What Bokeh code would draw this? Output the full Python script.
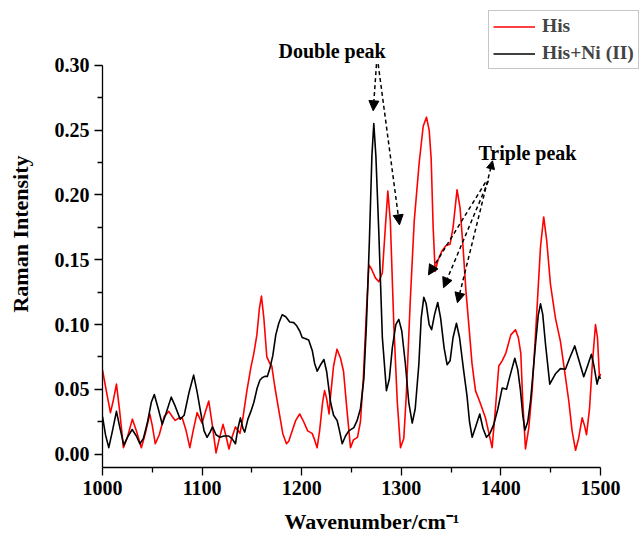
from bokeh.plotting import figure
from bokeh.models import Range1d, Legend, LegendItem, Label, Arrow, NormalHead, FixedTicker, PrintfTickFormatter
from bokeh.embed import file_html
from bokeh.resources import INLINE

# His (red)
his_x = [1000, 1004, 1008, 1011, 1014, 1017, 1021, 1025, 1030, 1034, 1039, 1043, 1047.5, 1050, 1053, 1057,
         1062, 1066.6, 1070, 1073, 1077, 1080, 1084, 1087.7, 1091, 1095, 1098, 1100, 1103, 1106.7, 1110,
         1114, 1117, 1121, 1124, 1127, 1130, 1133.5, 1138, 1141, 1145, 1149, 1152, 1155, 1157.5, 1159.6,
         1162, 1165, 1168, 1170, 1173, 1177, 1181, 1184.7, 1187, 1190.5, 1194, 1198, 1202, 1206, 1210.5,
         1213, 1215.5, 1218, 1221, 1223, 1225, 1227.5, 1229, 1232, 1235.5, 1239, 1242, 1245, 1249, 1252,
         1256, 1259, 1262, 1265, 1267.5, 1270, 1274, 1277.5, 1281, 1284, 1286.5, 1289, 1292.5, 1296,
         1299.2, 1302.5, 1305, 1309, 1313, 1318, 1322, 1325.3, 1328, 1330, 1332, 1334, 1337, 1341, 1345,
         1349, 1352, 1356, 1359, 1362, 1365, 1368, 1371, 1374.5, 1379, 1384.5, 1388, 1391.2, 1394, 1397.9,
         1401.3, 1405, 1410, 1414.7, 1417.5, 1420, 1422, 1424.7, 1428, 1431.4, 1435, 1439.8, 1443, 1446,
         1449.8, 1454.8, 1459.8, 1464, 1468.2, 1471.5, 1475, 1478, 1481.6, 1484, 1486, 1489, 1491.6, 1495,
         1497, 1499, 1500]
his_y = [0.065, 0.048, 0.032, 0.042, 0.054, 0.035, 0.005, 0.013, 0.027, 0.018, 0.005, 0.016, 0.031, 0.022,
         0.008, 0.015, 0.029, 0.033, 0.029, 0.026, 0.028, 0.028, 0.018, 0.005, 0.018, 0.032, 0.027, 0.024,
         0.032, 0.041, 0.024, 0.001, 0.011, 0.023, 0.014, 0.004, 0.013, 0.021, 0.016, 0.028, 0.049, 0.067,
         0.078, 0.092, 0.112, 0.122, 0.105, 0.075, 0.070, 0.068, 0.052, 0.034, 0.016, 0.008, 0.010, 0.018,
         0.026, 0.031, 0.025, 0.018, 0.016, 0.011, 0.005, 0.018, 0.040, 0.049, 0.043, 0.031, 0.045, 0.068,
         0.081, 0.074, 0.064, 0.038, 0.005, 0.011, 0.013, 0.025, 0.060, 0.110, 0.146, 0.143, 0.136, 0.133,
         0.140, 0.175, 0.203, 0.180, 0.100, 0.040, 0.005, 0.012, 0.045, 0.118, 0.180, 0.225, 0.253, 0.260,
         0.250, 0.228, 0.175, 0.141, 0.150, 0.157, 0.161, 0.162, 0.175, 0.204, 0.190, 0.160, 0.125, 0.098,
         0.070, 0.049, 0.040, 0.028, 0.016, 0.005, 0.030, 0.068, 0.072, 0.078, 0.092, 0.096, 0.090, 0.078,
         0.040, 0.004, 0.020, 0.049, 0.095, 0.160, 0.183, 0.165, 0.131, 0.105, 0.087, 0.064, 0.041, 0.018,
         0.003, 0.012, 0.028, 0.022, 0.015, 0.035, 0.067, 0.100, 0.090, 0.059, 0.062]

# His+Ni (II) (black)
ni_x = [1000, 1003, 1006.3, 1010, 1014, 1017, 1021.4, 1025, 1029.8, 1034, 1037.5, 1041, 1045, 1049, 1052,
        1056, 1060, 1064, 1069, 1073, 1078, 1082, 1087, 1091.5, 1095, 1098.4, 1102, 1105, 1108, 1110.5,
        1114, 1118, 1122, 1126.8, 1130, 1133.5, 1136, 1138.5, 1141, 1142.8, 1146, 1149, 1152, 1155.3, 1158,
        1160.3, 1163, 1165.5, 1168, 1171, 1174, 1177, 1180.4, 1184, 1188, 1192, 1195, 1198, 1200.5, 1204,
        1207, 1210.6, 1213, 1215.6, 1219, 1222.3, 1225, 1229, 1232, 1235.6, 1238, 1240.7, 1244, 1247.3,
        1252.4, 1255.7, 1259, 1262.4, 1265, 1268, 1270.5, 1272.4, 1274.5, 1277.4, 1281, 1285.1, 1288, 1291,
        1294.5, 1297.5, 1300.5, 1304.2, 1307.5, 1311, 1314, 1317.6, 1320, 1322.6, 1325, 1328, 1330.5,
        1333.5, 1336.6, 1339.5, 1343, 1346, 1349, 1352, 1355.4, 1358.5, 1362.7, 1366, 1368.5, 1371.2, 1375,
        1378.8, 1382, 1385.5, 1389, 1392.9, 1397, 1401.3, 1405.6, 1409, 1414, 1417, 1419.7, 1422, 1424.1,
        1427, 1429.8, 1434.8, 1437.5, 1439.8, 1442, 1444.8, 1449.1, 1452, 1454.8, 1459.8, 1464.8, 1469,
        1474.2, 1478.5, 1483.2, 1487, 1490.9, 1493.5, 1496.6, 1498.5, 1500]
ni_y = [0.029, 0.015, 0.005, 0.018, 0.033, 0.022, 0.007, 0.013, 0.019, 0.014, 0.008, 0.012, 0.024, 0.040,
        0.046, 0.035, 0.023, 0.032, 0.044, 0.037, 0.027, 0.030, 0.048, 0.061, 0.048, 0.033, 0.018, 0.013,
        0.017, 0.021, 0.015, 0.013, 0.014, 0.014, 0.012, 0.008, 0.020, 0.028, 0.020, 0.017, 0.027, 0.033,
        0.040, 0.051, 0.057, 0.059, 0.060, 0.060, 0.066, 0.076, 0.092, 0.101, 0.1075, 0.106, 0.102, 0.1015,
        0.099, 0.095, 0.090, 0.089, 0.088, 0.080, 0.070, 0.064, 0.069, 0.073, 0.064, 0.040, 0.030, 0.026,
        0.018, 0.008, 0.014, 0.018, 0.0205, 0.026, 0.035, 0.058, 0.100, 0.165, 0.230, 0.255, 0.230, 0.172,
        0.090, 0.049, 0.058, 0.082, 0.100, 0.104, 0.095, 0.069, 0.040, 0.024, 0.035, 0.069, 0.105, 0.121,
        0.116, 0.100, 0.096, 0.108, 0.117, 0.105, 0.082, 0.069, 0.072, 0.090, 0.101, 0.090, 0.064, 0.045,
        0.025, 0.013, 0.022, 0.031, 0.020, 0.013, 0.016, 0.023, 0.035, 0.051, 0.050, 0.060, 0.074, 0.065,
        0.049, 0.030, 0.0185, 0.025, 0.041, 0.085, 0.107, 0.116, 0.108, 0.085, 0.054, 0.058, 0.062, 0.066,
        0.0655, 0.074, 0.0835, 0.072, 0.0597, 0.068, 0.077, 0.068, 0.054, 0.060, 0.058]

x_major = [1000, 1100, 1200, 1300, 1400, 1500]
x_minor = [1050, 1150, 1250, 1350, 1450]
y_major = [0.00, 0.05, 0.10, 0.15, 0.20, 0.25, 0.30]
y_minor = [0.025, 0.075, 0.125, 0.175, 0.225, 0.275]

FONT = "Liberation Serif"

p = figure(width=641, height=538, output_backend="svg", toolbar_location=None,
           x_range=Range1d(1000, 1541.2), y_range=Range1d(-0.0103, 0.3500),
           min_border_left=102, min_border_right=0, min_border_top=0, min_border_bottom=71)
p.outline_line_color = None
p.grid.visible = False
p.background_fill_color = "white"

r1 = p.line(his_x, his_y, line_color="#ff0000", line_width=1.6, line_join="round")
r2 = p.line(ni_x, ni_y, line_color="#000000", line_width=1.6, line_join="round")

for ax in (p.xaxis[0], p.yaxis[0]):
    ax.axis_line_width = 1.3
    ax.major_tick_line_width = 1.3
    ax.minor_tick_line_width = 1.3
    ax.major_tick_in = 0
    ax.minor_tick_in = 0
    ax.major_tick_out = 8
    ax.minor_tick_out = 5
    ax.major_label_text_font = FONT
    ax.major_label_text_font_style = "bold"
    ax.major_label_text_font_size = "20px"
    ax.major_label_text_color = "black"
    ax.axis_label_text_font = FONT
    ax.axis_label_text_font_style = "bold"
    ax.axis_label_text_font_size = "22px"
    ax.axis_label_text_color = "black"

p.xaxis.ticker = FixedTicker(ticks=x_major, minor_ticks=x_minor)
p.yaxis.ticker = FixedTicker(ticks=y_major, minor_ticks=y_minor)
p.yaxis.formatter = PrintfTickFormatter(format="%.2f")
p.xaxis.bounds = (1000, 1500)
p.yaxis.bounds = (-0.0103, 0.30)
p.xaxis.axis_label = "Wavenumber/cm⁻¹"
p.yaxis.axis_label = "Raman Intensity"
p.xaxis.major_label_standoff = 5
p.xaxis.axis_label_standoff = 11
p.yaxis.major_label_standoff = 5
p.yaxis.axis_label_standoff = 19

legend = Legend(items=[LegendItem(label="His", renderers=[r1]),
                       LegendItem(label="His+Ni (II)", renderers=[r2])],
                location=(386, 398))
legend.label_text_font = FONT
legend.label_text_font_style = "bold"
legend.label_text_font_size = "19.5px"
legend.glyph_width = 42
legend.glyph_height = 21
legend.label_height = 21
legend.spacing = 5
legend.padding = 4
legend.margin = 0
legend.label_standoff = 7
legend.border_line_color = "#8c8c8c"
legend.border_line_width = 1
legend.background_fill_color = "white"
p.add_layout(legend)

p.add_layout(Label(x=1176.7, y=0.311, text="Double peak", text_font=FONT, text_font_style="bold",
                   text_font_size="20px", text_baseline="middle", text_color="black"))
p.add_layout(Label(x=1377.5, y=0.2325, text="Triple peak", text_font=FONT, text_font_style="bold",
                   text_font_size="20px", text_baseline="middle", text_color="black"))

def arrow(x0, y0, x1, y1, start=False):
    kw = dict(end=NormalHead(size=10, fill_color="black", line_color="black", line_width=1),
              x_start=x0, y_start=y0, x_end=x1, y_end=y1,
              line_color="black", line_width=1.5, line_dash="4 3")
    if start:
        kw["start"] = NormalHead(size=8, fill_color="black", line_color="black", line_width=1)
    p.add_layout(Arrow(**kw))

arrow(1275.1, 0.3009, 1271.8, 0.2649)
arrow(1276.8, 0.3009, 1298.2, 0.1769)
arrow(1384.5, 0.2096, 1327.3, 0.1383)
arrow(1387.5, 0.2109, 1342.4, 0.1284)
arrow(1391.6, 0.2263, 1356.4, 0.1168, start=True)

open("out.html", "w").write(file_html(p, INLINE))
